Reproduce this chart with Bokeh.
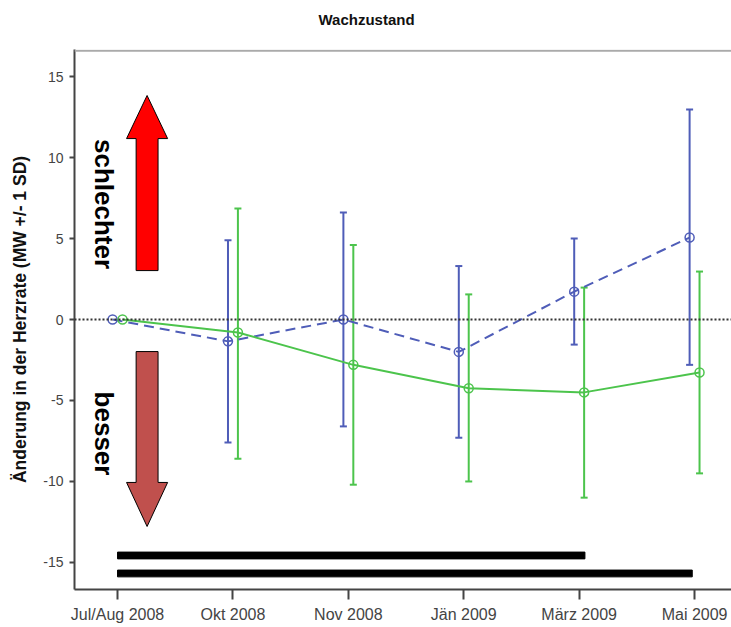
import math
from bokeh.plotting import figure
from bokeh.models import (Range1d, FixedTicker, ColumnDataSource, Whisker, TeeHead, Span)
from bokeh.core.properties import value
from bokeh.embed import file_html
from bokeh.resources import INLINE

# ---------------- data ----------------
categories = ["Jul/Aug 2008", "Okt 2008", "Nov 2008", "Jän 2009", "März 2009", "Mai 2009"]
blue_mean = [0.0, -1.35, 0.0, -2.0, 1.72, 5.06]
blue_upper = [None, 4.9, 6.6, 3.3, 5.0, 12.96]
blue_lower = [None, -7.6, -6.6, -7.3, -1.55, -2.8]
green_mean = [0.0, -0.8, -2.8, -4.25, -4.5, -3.27]
green_upper = [None, 6.85, 4.6, 1.55, 1.97, 2.96]
green_lower = [None, -8.6, -10.2, -10.0, -11.0, -9.5]
y_ticks = [-15, -10, -5, 0, 5, 10, 15]
# significance bars
sig_start = [0.0, 0.0]
sig_end = [4.05, 4.98]
sig_level = [-14.57, -15.68]

BLUE = "#4F5DB8"
GREEN = "#4CC44C"
OFFSET = 0.043

Y0, Y1 = -16.67, 16.67
p = figure(width=731, height=627, output_backend="svg", toolbar_location=None,
           x_range=Range1d(-0.373, 5.32), y_range=Range1d(Y0, Y1),
           min_border_left=74, min_border_right=0, min_border_top=49, min_border_bottom=38,
           title="Wachzustand\n\u00a0")
p.background_fill_color = "white"
p.border_fill_color = "white"
p.outline_line_color = None
p.xgrid.visible = False
p.ygrid.visible = False

p.title.text_font = "Liberation Sans"
p.title.text_font_size = "15px"
p.title.text_font_style = "bold"
p.title.text_color = "#111111"
p.title.align = "left"
p.title.offset = 244

# axes
xa = p.xaxis[0]
xa.ticker = FixedTicker(ticks=list(range(len(categories))))
xa.major_label_overrides = {i: c for i, c in enumerate(categories)}
xa.minor_tick_line_color = None
xa.major_tick_out = 10
xa.major_tick_in = 0
xa.major_label_standoff = 6
xa.major_label_text_font = "Liberation Sans"
xa.major_label_text_font_size = "16px"
xa.major_label_text_color = "#444444"
xa.axis_line_color = "#444444"
xa.axis_line_width = 2
xa.major_tick_line_color = "#444444"
xa.major_tick_line_width = 2

ya = p.yaxis[0]
ya.ticker = FixedTicker(ticks=y_ticks)
ya.major_label_overrides = {t: str(t) for t in y_ticks}
ya.minor_tick_line_color = None
ya.major_tick_out = 5
ya.major_tick_in = 0
ya.major_label_standoff = 6
ya.major_label_text_font = "Liberation Sans"
ya.major_label_text_font_size = "14px"
ya.major_label_text_color = "#444444"
ya.axis_line_color = "#444444"
ya.axis_line_width = 2
ya.major_tick_line_color = "#444444"
ya.major_tick_line_width = 2
ya.axis_label = "Änderung in der Herzrate (MW +/- 1 SD)"
ya.axis_label_text_font = "Liberation Sans"
ya.axis_label_text_font_size = "17.5px"
ya.axis_label_text_font_style = "bold"
ya.axis_label_text_color = "#111111"
ya.axis_label_standoff = 10

# top frame line
p.add_layout(Span(location=16.6, dimension="width", line_color="#aaaaaa", line_width=2))
# zero reference
p.add_layout(Span(location=0, dimension="width", line_color="#333333", line_width=2,
                  line_dash="2 2"))

# arrows (decorations)
def arrow(xc, y0, y1, head_len, shaft_hw, head_hw):
    d = 1 if y1 > y0 else -1
    yb = y1 - d * head_len
    xs = [xc - shaft_hw, xc - shaft_hw, xc - head_hw, xc, xc + head_hw, xc + shaft_hw, xc + shaft_hw]
    ys = [y0, yb, yb, y1, yb, yb, y0]
    return xs, ys

ax, ay = arrow(0.256, 3.02, 13.83, 2.66, 0.095, 0.178)
p.patch(ax, ay, fill_color="#FF0000", line_color="black", line_width=1)
bx, by = arrow(0.256, -1.98, -12.78, 2.72, 0.095, 0.178)
p.patch(bx, by, fill_color="#C0504D", line_color="black", line_width=1)

p.text(x=[-0.121, -0.121], y=[7.13, -7.04], text=["schlechter", "besser"],
       angle=-math.pi / 2, text_align="center", text_baseline="middle",
       text_font=value("Liberation Sans"), text_font_style="bold",
       text_font_size="26px", text_color="black")

# significance bars
p.hbar(y=sig_level, left=sig_start, right=sig_end, height=0.42, color="black")

# series
def series(mean, upper, lower, color, off, dash):
    xs = [i + off for i in range(len(mean))]
    idx = [i for i in range(len(mean)) if upper[i] is not None]
    ws = ColumnDataSource(dict(x=[xs[i] for i in idx], up=[upper[i] for i in idx],
                               lo=[lower[i] for i in idx]))
    w = Whisker(base="x", upper="up", lower="lo", source=ws, dimension="height",
                line_color=color, line_width=2,
                upper_head=TeeHead(size=7, line_color=color, line_width=2),
                lower_head=TeeHead(size=7, line_color=color, line_width=2))
    p.add_layout(w)
    p.line(xs, mean, line_color=color, line_width=2, line_dash=dash)
    p.scatter(xs, mean, marker="circle", size=9, fill_color=None, line_color=color,
              line_width=1.5)

series(blue_mean, blue_upper, blue_lower, BLUE, -OFFSET, "10 6")
series(green_mean, green_upper, green_lower, GREEN, OFFSET, "solid")

open("out.html", "w").write(file_html(p, INLINE))
